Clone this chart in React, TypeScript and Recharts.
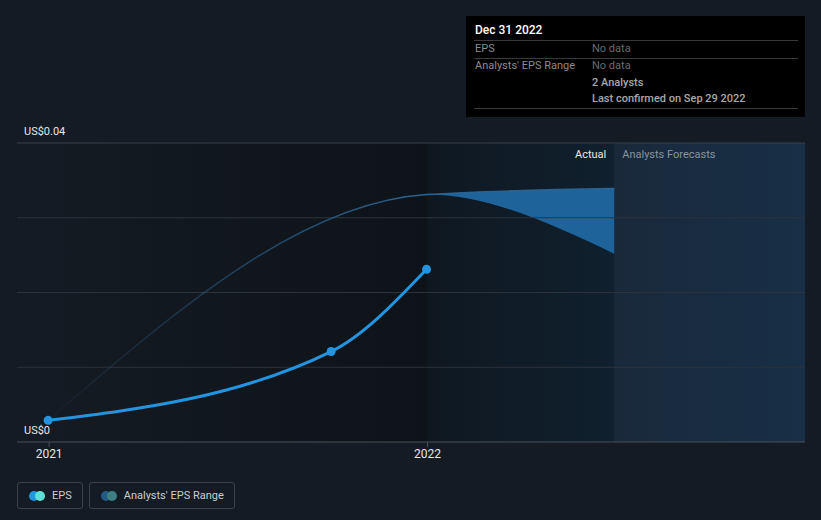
import React from "react";
import { ComposedChart, Line, Area, XAxis, YAxis, ReferenceArea, ReferenceLine } from "recharts";

const day = (s: string) => Date.parse(s + "T00:00:00Z");

// data
const epsDates = ["2020-12-31", "2021-09-30", "2021-12-31"];
const epsValues = [0.0029, 0.0121, 0.0231];
const rangeDates = ["2020-12-31", "2021-12-31", "2022-06-30"];
const rangeLow = [0.0029, 0.0331, 0.0252];
const rangeHigh = [0.0029, 0.0331, 0.0339];
const xTickDates = ["2021-01-01", "2022-01-01"];
const xTickLabels = ["2021", "2022"];
const yLabelValues = [0, 0.04];
const gridValues = [0.01, 0.02, 0.03, 0.04];
const domainStart = "2020-12-01";
const domainEnd = "2022-12-31";
const actualEnd = "2022-01-01";
const forecastStart = "2022-06-30";

const FONT = "Roboto, 'Noto Sans', sans-serif";
const BG = "#151b24";
const EPS_COLOR = "#2394df";

const allDates = Array.from(new Set([...epsDates, ...rangeDates])).sort();
const table = allDates.map((d) => {
  const ei = epsDates.indexOf(d);
  const ri = rangeDates.indexOf(d);
  return {
    t: day(d),
    eps: ei >= 0 ? epsValues[ei] : null,
    range: ri >= 0 ? [rangeLow[ri], rangeHigh[ri]] : null,
    high: ri >= 0 ? rangeHigh[ri] : null,
  };
});

// where the band opens up, as a share of the band's width
const bandOpen =
  (day(rangeDates[1]) - day(rangeDates[0])) / (day(rangeDates[2]) - day(rangeDates[0]));

const tickLabel = (t: number) => xTickLabels[xTickDates.map(day).indexOf(t)] ?? "";

const yLabel = (value: number) => (props: any) => {
  const vb = props.viewBox;
  return (
    <text x={vb.x + 7} y={vb.y - 8} fill="#e6e6e6" fontSize={11} fontFamily={FONT}>
      {"US$" + value}
    </text>
  );
};

const RegionLabels = (props: any) => {
  const vb = props.viewBox;
  return (
    <g fontFamily={FONT} fontSize={11}>
      <text x={vb.x - 8} y={vb.y + 15} textAnchor="end" fill="#e8e8e8">Actual</text>
      <text x={vb.x + 8} y={vb.y + 15} fill="#8a949e">Analysts Forecasts</text>
    </g>
  );
};

const LegendItem = ({ a, b, text }: { a: string; b: string; text: string }) => (
  <div
    style={{
      display: "flex",
      alignItems: "center",
      height: 25,
      padding: "0 10px 0 11px",
      border: "1px solid #3a414b",
      borderRadius: 3,
      color: "#c9ccd0",
      fontSize: 11,
    }}
  >
    <span style={{ position: "relative", width: 16, height: 10, marginRight: 7 }}>
      <span style={{ position: "absolute", left: 0, top: 0, width: 10, height: 10, borderRadius: 5, background: a }} />
      <span style={{ position: "absolute", left: 6, top: 0, width: 10, height: 10, borderRadius: 5, background: b }} />
    </span>
    {text}
  </div>
);

const rowText = { position: "absolute" as const, fontSize: 11, lineHeight: "17px" };

export default function App() {
  return (
    <div style={{ position: "absolute", left: 0, top: 0, width: 821, height: 520, background: BG, fontFamily: FONT, overflow: "hidden" }}>
      <ComposedChart width={821} height={520} data={table} margin={{ top: 143, right: 16, bottom: 48, left: 17 }}>
        <defs>
          <linearGradient id="actualBg" x1="0" y1="0" x2="1" y2="0">
            <stop offset="0%" stopColor="#151b24" />
            <stop offset="100%" stopColor="#0e1319" />
          </linearGradient>
          <linearGradient id="midBg" x1="0" y1="0" x2="1" y2="0">
            <stop offset="0%" stopColor="#0f1821" />
            <stop offset="100%" stopColor="#10202e" />
          </linearGradient>
          <linearGradient id="forecastBg" x1="0" y1="0" x2="1" y2="0">
            <stop offset="0%" stopColor="#19293a" />
            <stop offset="100%" stopColor="#182f47" />
          </linearGradient>
          <linearGradient id="bandFill" x1="0" y1="0" x2="1" y2="0">
            <stop offset={bandOpen} stopColor="#1e649b" stopOpacity={0} />
            <stop offset={Math.min(1, bandOpen + 0.002)} stopColor="#1e649b" stopOpacity={1} />
            <stop offset={1} stopColor="#1e649b" stopOpacity={1} />
          </linearGradient>
          <linearGradient id="rangeStroke" x1="0" y1="0" x2="1" y2="0">
            <stop offset="0%" stopColor="#2a6493" stopOpacity={0.05} />
            <stop offset="40%" stopColor="#2a6493" stopOpacity={0.65} />
            <stop offset="67%" stopColor="#2a6493" stopOpacity={1} />
            <stop offset="100%" stopColor="#2a6493" stopOpacity={1} />
          </linearGradient>
        </defs>
        <XAxis
          dataKey="t"
          type="number"
          scale="time"
          domain={[day(domainStart), day(domainEnd)]}
          ticks={xTickDates.map(day)}
          tickFormatter={tickLabel}
          height={30}
          tickSize={5}
          tickMargin={2}
          axisLine={{ stroke: "#4b5159" }}
          tickLine={{ stroke: "#4b5159" }}
          tick={{ fill: "#e6e6e6", fontSize: 12, fontFamily: FONT }}
        />
        <YAxis domain={[0, 0.04]} hide />
        <ReferenceArea x1={day(domainStart)} x2={day(actualEnd)} y1={0} y2={0.04} fill="url(#actualBg)" fillOpacity={1} stroke="none" />
        <ReferenceArea x1={day(actualEnd)} x2={day(forecastStart)} y1={0} y2={0.04} fill="url(#midBg)" fillOpacity={1} stroke="none" />
        <ReferenceArea x1={day(forecastStart)} x2={day(domainEnd)} y1={0} y2={0.04} fill="url(#forecastBg)" fillOpacity={1} stroke="none" />
        <Area
          dataKey="range"
          type="monotone"
          connectNulls
          stroke="none"
          fill="url(#bandFill)"
          fillOpacity={1}
          isAnimationActive={false}
          activeDot={false}
        />
        {gridValues.map((v) => (
          <ReferenceLine key={v} y={v} stroke={v === 0.04 ? "#3b414a" : "#2c333c"} strokeWidth={1} />
        ))}
        {yLabelValues.map((v) => (
          <ReferenceLine key={"l" + v} y={v} stroke="none" label={yLabel(v)} />
        ))}
        <ReferenceLine x={day(forecastStart)} stroke="none" label={<RegionLabels />} />
        <Line
          dataKey="high"
          type="monotone"
          connectNulls
          stroke="url(#rangeStroke)"
          strokeWidth={1.5}
          dot={false}
          activeDot={false}
          isAnimationActive={false}
        />
        <Line
          dataKey="eps"
          type="monotone"
          connectNulls
          stroke={EPS_COLOR}
          strokeWidth={3}
          dot={{ r: 4.5, fill: EPS_COLOR, stroke: "none" }}
          activeDot={false}
          isAnimationActive={false}
        />
      </ComposedChart>

      <div style={{ position: "absolute", left: 466, top: 16, width: 339, height: 101, background: "#000" }}>
        <div style={{ position: "absolute", left: 9, top: 7, fontSize: 12, color: "#fff", fontWeight: 500 }}>Dec 31 2022</div>
        <div style={{ position: "absolute", left: 8, right: 7, top: 24, borderTop: "1px solid #3a3a3a" }} />
        <div style={{ ...rowText, left: 9, top: 24, color: "#8c8c8c" }}>EPS</div>
        <div style={{ ...rowText, left: 126, top: 24, color: "#6b6b6b" }}>No data</div>
        <div style={{ position: "absolute", left: 8, right: 7, top: 42, borderTop: "1px solid #3a3a3a" }} />
        <div style={{ ...rowText, left: 9, top: 41, color: "#8c8c8c" }}>Analysts' EPS Range</div>
        <div style={{ ...rowText, left: 126, top: 41, color: "#6b6b6b" }}>No data</div>
        <div style={{ ...rowText, left: 126, top: 58, color: "#a8a8a8", fontWeight: 500 }}>2 Analysts</div>
        <div style={{ ...rowText, left: 126, top: 74, color: "#a8a8a8", fontWeight: 500 }}>Last confirmed on Sep 29 2022</div>
        <div style={{ position: "absolute", left: 8, right: 7, top: 92, borderTop: "1px solid #3a3a3a" }} />
      </div>

      <div style={{ position: "absolute", left: 17, top: 482, display: "flex", gap: 6 }}>
        <LegendItem a={EPS_COLOR} b="#5fe0d6" text="EPS" />
        <LegendItem a="#245a86" b="#3d7f82" text="Analysts' EPS Range" />
      </div>
    </div>
  );
}
